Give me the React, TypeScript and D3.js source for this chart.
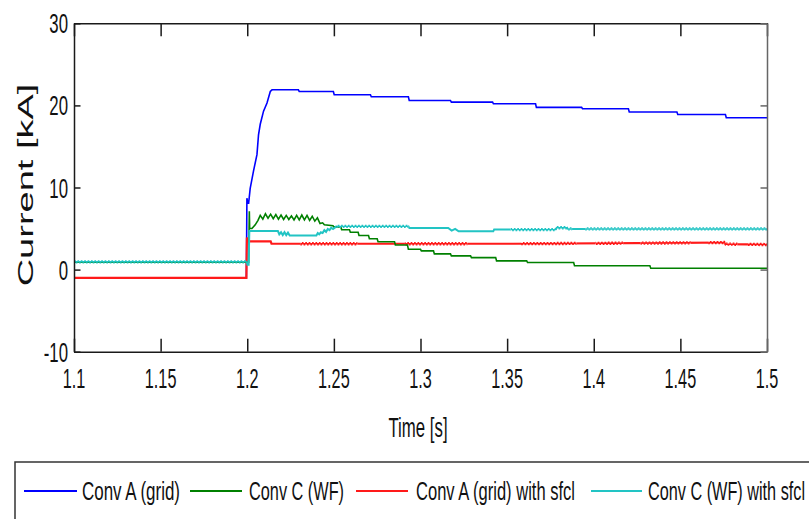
import { useRef, useEffect } from 'react';
import * as d3 from 'd3';

const W = 809;
const H = 519;
const PLOT = { left: 74, right: 767, top: 23.3, bottom: 351.7 };
const FONT = '"Liberation Sans", Arial, sans-serif';

type Pt = [number, number];

const xTicks = [1.1, 1.15, 1.2, 1.25, 1.3, 1.35, 1.4, 1.45, 1.5];
const yTicks = [-10, 0, 10, 20, 30];

// [time s, current kA]
const convAGrid: Pt[] = [
  [1.1, -1.0], [1.1995, -1.0], [1.1998, 8.7], [1.2003, 8.1], [1.2008, 8.1],
  [1.2017, 9.9], [1.2036, 12.0], [1.2056, 14.0], [1.2065, 16.4], [1.2075, 17.7],
  [1.2094, 19.3], [1.2114, 20.3], [1.2133, 21.7], [1.2143, 21.9],
  [1.2295, 21.9], [1.2300, 21.7], [1.2497, 21.7], [1.2502, 21.3],
  [1.2711, 21.3], [1.2716, 21.05], [1.2930, 21.05], [1.2935, 20.6],
  [1.3173, 20.6], [1.3178, 20.4], [1.3416, 20.4], [1.3421, 20.2],
  [1.3664, 20.2], [1.3669, 19.76], [1.3930, 19.76], [1.3935, 19.6],
  [1.4200, 19.6], [1.4205, 19.2], [1.4480, 19.2], [1.4485, 18.9],
  [1.4760, 18.9], [1.4765, 18.5], [1.5, 18.5],
];

const convCWF: Pt[] = [
  [1.1, 0.9], [1.2008, 0.9], [1.2012, 7.1], [1.2014, 5.0], [1.2027, 5.0],
  [1.2046, 5.45], [1.2062, 6.0], [1.2075, 6.6],
  [1.2090, 6.15], [1.2105, 6.8], [1.2120, 6.25], [1.2135, 6.75], [1.2150, 6.2],
  [1.2165, 6.7], [1.2180, 6.15], [1.2195, 6.65], [1.2210, 6.1], [1.2225, 6.6],
  [1.2240, 6.1], [1.2255, 6.55], [1.2270, 6.05], [1.2285, 6.6], [1.2300, 6.05],
  [1.2315, 6.65], [1.2330, 6.05], [1.2345, 6.6], [1.2360, 6.0], [1.2375, 6.5],
  [1.2390, 5.9], [1.2405, 6.3], [1.2420, 5.6], [1.2435, 5.7], [1.2445, 5.45],
  [1.2495, 5.35], [1.2500, 5.2], [1.2540, 5.2], [1.2545, 4.85], [1.2590, 4.85],
  [1.2595, 4.55], [1.2640, 4.55], [1.2645, 4.15], [1.2700, 4.15], [1.2705, 3.75],
  [1.2750, 3.75], [1.2755, 3.4], [1.2850, 3.4], [1.2855, 3.0], [1.2925, 3.0],
  [1.2930, 2.47], [1.3000, 2.47], [1.3005, 2.28], [1.3075, 2.28], [1.3080, 1.91],
  [1.3173, 1.91], [1.3178, 1.67], [1.3289, 1.67], [1.3294, 1.46], [1.3434, 1.46],
  [1.3439, 1.06], [1.3613, 1.06], [1.3618, 0.86], [1.3884, 0.86], [1.3889, 0.46],
  [1.4324, 0.46], [1.4329, 0.17], [1.5, 0.17],
];

const convAGridSfcl: Pt[] = [
  [1.1, -1.0], [1.1995, -1.0], [1.1998, 3.9], [1.2005, 3.45], [1.2135, 3.45],
  [1.2140, 3.15], [1.3535, 3.15], [1.4500, 3.25], [1.4755, 3.3], [1.4760, 3.1],
  [1.5, 3.05],
];

const convCWFSfcl: Pt[] = [
  [1.1, 0.95], [1.1995, 0.95], [1.2000, 0.6], [1.2008, 0.6], [1.2012, 4.7],
  [1.2177, 4.7], [1.2185, 4.3], [1.2195, 4.55], [1.2205, 4.2], [1.2215, 4.55],
  [1.2225, 4.2], [1.2235, 4.5], [1.2245, 4.15], [1.2399, 4.15], [1.2407, 4.45],
  [1.2415, 4.3], [1.2425, 4.55], [1.2435, 4.45], [1.2445, 4.8], [1.2455, 4.6],
  [1.2465, 4.95], [1.2475, 4.8], [1.2485, 5.1], [1.2495, 4.95], [1.2515, 5.27],
  [1.2930, 5.27], [1.2935, 5.07], [1.3160, 5.07], [1.3180, 4.75], [1.3200, 4.95],
  [1.3220, 4.66], [1.3420, 4.66], [1.3425, 4.87], [1.3780, 4.87], [1.3785, 5.1],
  [1.3845, 5.1], [1.3850, 4.95], [1.5, 4.95],
];

// time windows where the trace carries the fine switching ripple
const convAGridSfclRipple: Pt[] = [
  [1.2306, 1.2636], [1.2910, 1.3270], [1.3580, 1.3900], [1.4010, 1.4170],
  [1.4270, 1.4560], [1.4660, 1.4830], [1.4890, 1.5],
];
const convCWFSfclRipple: Pt[] = [
  [1.1, 1.1995], [1.2515, 1.2930], [1.3520, 1.3875], [1.3950, 1.5],
];

// drawing order: red over blue, cyan over green before the fault
const SERIES = [
  { key: 'a', data: convAGrid, ripple: [] as Pt[], color: '#0000ff', w: 1.6 },
  { key: 'as', data: convAGridSfcl, ripple: convAGridSfclRipple, color: '#ff1a1a', w: 2.2 },
  { key: 'c', data: convCWF, ripple: [] as Pt[], color: '#008000', w: 1.6 },
  { key: 'cs', data: convCWFSfcl, ripple: convCWFSfclRipple, color: '#22c4c4', w: 2.0 },
];

const LEGEND = [
  { label: 'Conv A (grid)', color: '#0000ff', x0: 24, x1: 77, tx: 82, tw: 98 },
  { label: 'Conv C (WF)', color: '#008000', x0: 190, x1: 242, tx: 249, tw: 95 },
  { label: 'Conv A (grid) with sfcl', color: '#ff1a1a', x0: 356, x1: 408, tx: 416, tw: 159 },
  { label: 'Conv C (WF) with sfcl', color: '#22c4c4', x0: 591, x1: 642, tx: 648, tw: 157 },
];

export default function App() {
  const svgRef = useRef<SVGSVGElement>(null);

  useEffect(() => {
    const svg = d3.select(svgRef.current);
    svg.selectAll('*').remove();

    const x = d3.scaleLinear().domain([1.1, 1.5]).range([PLOT.left, PLOT.right]);
    const y = d3.scaleLinear().domain([-10, 30]).range([PLOT.bottom, PLOT.top]);

    svg.append('rect').attr('width', W).attr('height', H).attr('fill', '#fff');

    const defs = svg.append('defs');
    defs.append('clipPath').attr('id', 'plot-clip').append('rect')
      .attr('x', PLOT.left).attr('y', PLOT.top)
      .attr('width', PLOT.right - PLOT.left).attr('height', PLOT.bottom - PLOT.top);

    const line = d3.line<Pt>().x(d => x(d[0])).y(d => y(d[1]));
    const edge = (t: number) => (t <= 1.1 ? 0 : t >= 1.5 ? W : x(t));

    SERIES.forEach(s => {
      const g = svg.append('g').attr('clip-path', 'url(#plot-clip)');
      if (!s.ripple.length) {
        g.append('path').attr('d', line(s.data)).attr('fill', 'none')
          .attr('stroke', s.color).attr('stroke-width', s.w);
        return;
      }
      const gaps: Pt[] = [];
      let prev = 1.1;
      s.ripple.forEach(r => {
        if (r[0] > prev) gaps.push([prev, r[0]]);
        prev = r[1];
      });
      if (prev < 1.5) gaps.push([prev, 1.5]);

      const addClip = (id: string, spans: Pt[]) => {
        defs.append('clipPath').attr('id', id).selectAll('rect').data(spans).join('rect')
          .attr('x', d => edge(d[0])).attr('width', d => edge(d[1]) - edge(d[0]))
          .attr('y', 0).attr('height', H);
      };
      addClip(`solid-${s.key}`, gaps);
      addClip(`rip-${s.key}`, s.ripple);

      g.append('path').attr('d', line(s.data)).attr('fill', 'none')
        .attr('clip-path', `url(#solid-${s.key})`)
        .attr('stroke', s.color).attr('stroke-width', s.w);
      const rg = g.append('g').attr('clip-path', `url(#rip-${s.key})`);
      rg.append('path').attr('d', line(s.data)).attr('fill', 'none')
        .attr('stroke', s.color).attr('stroke-width', s.w - 0.6);
      [[-1, 0], [1, 1.7]].forEach(([dy, off]) => {
        rg.append('path').attr('d', line(s.data)).attr('fill', 'none')
          .attr('transform', `translate(0,${dy})`)
          .attr('stroke', s.color).attr('stroke-width', 1.3)
          .attr('stroke-dasharray', '1.7 1.7').attr('stroke-dashoffset', off);
      });
    });

    // box with inward ticks on all four sides
    const axes = [
      { ax: d3.axisBottom(x).tickValues(xTicks).tickSizeInner(-13), t: `translate(0,${PLOT.bottom})` },
      { ax: d3.axisTop(x).tickValues(xTicks).tickSizeInner(-13), t: `translate(0,${PLOT.top})` },
      { ax: d3.axisLeft(y).tickValues(yTicks).tickSizeInner(-6.5), t: `translate(${PLOT.left},0)` },
      { ax: d3.axisRight(y).tickValues(yTicks).tickSizeInner(-6.5), t: `translate(${PLOT.right},0)` },
    ];
    axes.forEach(({ ax, t }, i) => {
      const g = svg.append('g').attr('transform', t)
        .call(ax.tickSizeOuter(0).tickFormat(() => ''));
      g.selectAll('text').remove();
      g.selectAll('path.domain, line')
        .attr('stroke', i === 3 ? '#666' : '#1a1a1a').attr('stroke-width', 1.5);
    });

    xTicks.forEach(v => {
      svg.append('text')
        .attr('transform', `translate(${x(v)},388) scale(0.58,1)`)
        .attr('text-anchor', 'middle').attr('font-family', FONT).attr('font-size', 28)
        .attr('fill', '#111').text(String(v));
    });
    yTicks.forEach(v => {
      svg.append('text')
        .attr('transform', `translate(68,${y(v) + 10}) scale(0.6,1)`)
        .attr('text-anchor', 'end').attr('font-family', FONT).attr('font-size', 28)
        .attr('fill', '#111').text(String(v));
    });

    svg.append('text')
      .attr('transform', 'translate(418,437) scale(0.6,1)')
      .attr('text-anchor', 'middle').attr('font-family', FONT).attr('font-size', 28)
      .attr('fill', '#111').text('Time [s]');
    svg.append('text')
      .attr('transform', 'translate(33,185) rotate(-90) scale(1,0.6)')
      .attr('text-anchor', 'middle').attr('font-family', FONT).attr('font-size', 38)
      .attr('fill', '#111').text('Current [kA]');

    // legend
    const lg = svg.append('g');
    lg.append('rect').attr('x', 15).attr('y', 462).attr('width', 820).attr('height', 100)
      .attr('fill', '#fff').attr('stroke', '#333').attr('stroke-width', 1.5);
    LEGEND.forEach(l => {
      lg.append('line').attr('x1', l.x0).attr('x2', l.x1).attr('y1', 491).attr('y2', 491)
        .attr('stroke', l.color).attr('stroke-width', 2);
      lg.append('text').attr('x', l.tx).attr('y', 500)
        .attr('font-family', FONT).attr('font-size', 25).attr('fill', '#111')
        .attr('textLength', l.tw).attr('lengthAdjust', 'spacingAndGlyphs')
        .text(l.label);
    });
  }, []);

  return (
    <svg ref={svgRef} width={W} height={H}
      style={{ position: 'absolute', left: 0, top: 0 }} />
  );
}
